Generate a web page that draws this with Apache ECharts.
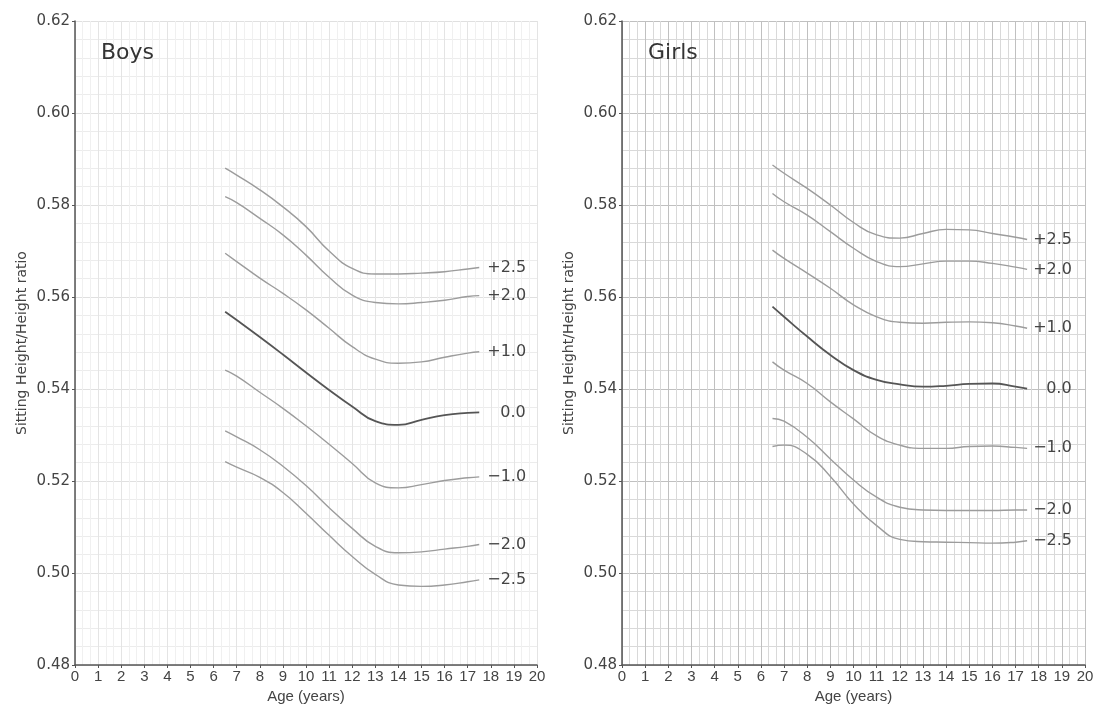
<!DOCTYPE html>
<html>
<head>
<meta charset="utf-8">
<script src="https://cdn.jsdelivr.net/npm/echarts@6/dist/echarts.min.js"></script>
<style>
  html, body { margin: 0; padding: 0; background: #fff; }
  #chart { width: 1098px; height: 714px; }
</style>
</head>
<body>
<div id="chart"></div>
<script>
// ages (years)
const ages = [6.5, 7, 8, 9, 10, 11, 12, 13, 14, 15, 16, 17, 17.5]
const sdLabels = ['+2.5', '+2.0', '+1.0', '0.0', '\u22121.0', '\u22122.0', '\u22122.5']
const xTicks = [0, 1, 2, 3, 4, 5, 6, 7, 8, 9, 10, 11, 12, 13, 14, 15, 16, 17, 18, 19, 20]
const yTicks = [0.48, 0.50, 0.52, 0.54, 0.56, 0.58, 0.60, 0.62]

// Boys sitting height / height ratio
const boysP25 = [0.5880, 0.5865, 0.5833, 0.5796, 0.5753, 0.5700, 0.5662, 0.5650, 0.5650, 0.5652, 0.5655, 0.5661, 0.5664]
const boysP20 = [0.5818, 0.5805, 0.5771, 0.5735, 0.5691, 0.5643, 0.5604, 0.5588, 0.5585, 0.5588, 0.5593, 0.5601, 0.5603]
const boysP10 = [0.5695, 0.5677, 0.5641, 0.5608, 0.5572, 0.5532, 0.5492, 0.5465, 0.5456, 0.5459, 0.5469, 0.5478, 0.5481]
const boysM = [0.5568, 0.5550, 0.5513, 0.5475, 0.5436, 0.5398, 0.5362, 0.5330, 0.5322, 0.5333, 0.5343, 0.5348, 0.5349]
const boysN10 = [0.5441, 0.5428, 0.5393, 0.5358, 0.5320, 0.5280, 0.5238, 0.5196, 0.5185, 0.5192, 0.5201, 0.5207, 0.5209]
const boysN20 = [0.5309, 0.5296, 0.5268, 0.5232, 0.5190, 0.5142, 0.5097, 0.5058, 0.5044, 0.5046, 0.5052, 0.5058, 0.5062]
const boysN25 = [0.5242, 0.5230, 0.5208, 0.5175, 0.5130, 0.5082, 0.5036, 0.4997, 0.4974, 0.4971, 0.4974, 0.4981, 0.4985]

// Girls sitting height / height ratio
const girlsP25 = [0.5887, 0.5869, 0.5836, 0.5800, 0.5762, 0.5735, 0.5728, 0.5738, 0.5747, 0.5746, 0.5738, 0.5730, 0.5725]
const girlsP20 = [0.5825, 0.5807, 0.5778, 0.5742, 0.5706, 0.5677, 0.5666, 0.5672, 0.5678, 0.5678, 0.5673, 0.5665, 0.5660]
const girlsP10 = [0.5702, 0.5684, 0.5652, 0.5619, 0.5583, 0.5557, 0.5545, 0.5543, 0.5545, 0.5546, 0.5544, 0.5537, 0.5532]
const girlsM = [0.5579, 0.5557, 0.5514, 0.5474, 0.5441, 0.5420, 0.5410, 0.5405, 0.5407, 0.5411, 0.5412, 0.5405, 0.5401]
const girlsN10 = [0.5459, 0.5441, 0.5412, 0.5372, 0.5335, 0.5298, 0.5278, 0.5271, 0.5271, 0.5275, 0.5276, 0.5273, 0.5271]
const girlsN20 = [0.5336, 0.5330, 0.5295, 0.5248, 0.5202, 0.5165, 0.5143, 0.5137, 0.5136, 0.5136, 0.5136, 0.5137, 0.5137]
const girlsN25 = [0.5275, 0.5278, 0.5258, 0.5210, 0.5150, 0.5103, 0.5073, 0.5068, 0.5067, 0.5066, 0.5065, 0.5067, 0.5070]

const boys = [boysP25, boysP20, boysP10, boysM, boysN10, boysN20, boysN25]
const girls = [girlsP25, girlsP20, girlsP10, girlsM, girlsN10, girlsN20, girlsN25]

const FONT = 'Liberation Sans'
const WIDE = 'DejaVu Sans'
const textColor = '#444'

function makeSeries(list, gridIndex, gap) {
  return list.map((vals, i) => {
    const isMedian = i === 3
    return {
      name: sdLabels[i],
      type: 'line',
      xAxisIndex: gridIndex,
      yAxisIndex: gridIndex,
      smooth: 0.5,
      showSymbol: false,
      silent: true,
      lineStyle: {
        color: isMedian ? '#555' : '#9c9c9c',
        width: isMedian ? 1.8 : 1.4
      },
      endLabel: {
        show: true,
        formatter: sdLabels[i],
        color: textColor,
        fontFamily: WIDE,
        fontSize: 16,
        distance: isMedian ? gap + 13 : gap
      },
      data: ages.map((a, k) => [a, vals[k]])
    }
  })
}

function xAxis(gridIndex, major, minor) {
  return {
    type: 'value',
    gridIndex,
    min: 0,
    max: 20,
    interval: 1,
    name: 'Age (years)',
    nameLocation: 'middle',
    nameGap: 17,
    nameTextStyle: { color: textColor, fontFamily: FONT, fontSize: 15 },
    axisLine: { show: true, lineStyle: { color: '#555', width: 1.5 } },
    axisTick: { show: true, length: 3, lineStyle: { color: '#555' } },
    axisLabel: {
      color: textColor, fontFamily: FONT, fontSize: 15, margin: 4,
      formatter: v => (xTicks.indexOf(v) >= 0 ? String(v) : '')
    },
    splitLine: { show: true, lineStyle: { color: major, width: 1 } },
    minorTick: { show: false, splitNumber: 3 },
    minorSplitLine: { show: true, lineStyle: { color: minor, width: 1 } }
  }
}

function yAxis(gridIndex, major, minor) {
  return {
    type: 'value',
    gridIndex,
    min: 0.48,
    max: 0.62,
    interval: 0.02,
    name: 'Sitting Height/Height ratio',
    nameLocation: 'middle',
    nameGap: 46,
    nameTextStyle: { color: textColor, fontFamily: WIDE, fontSize: 14 },
    axisLine: { show: true, lineStyle: { color: '#555', width: 1.5 } },
    axisTick: { show: true, length: 3, lineStyle: { color: '#555' } },
    axisLabel: {
      color: textColor, fontFamily: WIDE, fontSize: 15, margin: 5,
      formatter: v => {
        const t = yTicks.find(y => Math.abs(y - v) < 1e-6)
        return t === undefined ? '' : t.toFixed(2)
      }
    },
    splitLine: { show: true, lineStyle: { color: major, width: 1 } },
    minorTick: { show: false, splitNumber: 5 },
    minorSplitLine: { show: true, lineStyle: { color: minor, width: 1 } }
  }
}

const chart = echarts.init(document.getElementById('chart'), null, { renderer: 'canvas' })
chart.setOption({
  backgroundColor: '#fff',
  animation: false,
  title: [
    { text: 'Boys', left: 96, top: 37, textStyle: { fontFamily: WIDE, fontSize: 22, fontWeight: 'normal', color: '#333' } },
    { text: 'Girls', left: 643, top: 37, textStyle: { fontFamily: WIDE, fontSize: 22, fontWeight: 'normal', color: '#333' } }
  ],
  grid: [
    { left: 75, top: 21, width: 462, height: 644, show: false },
    { left: 622, top: 21, width: 463, height: 644, show: false }
  ],
  xAxis: [xAxis(0, '#e4e4e4', '#f0f0f0'), xAxis(1, '#c0c0c0', '#d9d9d9')],
  yAxis: [yAxis(0, '#e0e0e0', '#ececec'), yAxis(1, '#c0c0c0', '#d9d9d9')],
  series: [].concat(makeSeries(boys, 0, 8), makeSeries(girls, 1, 6))
})
</script>
</body>
</html>
